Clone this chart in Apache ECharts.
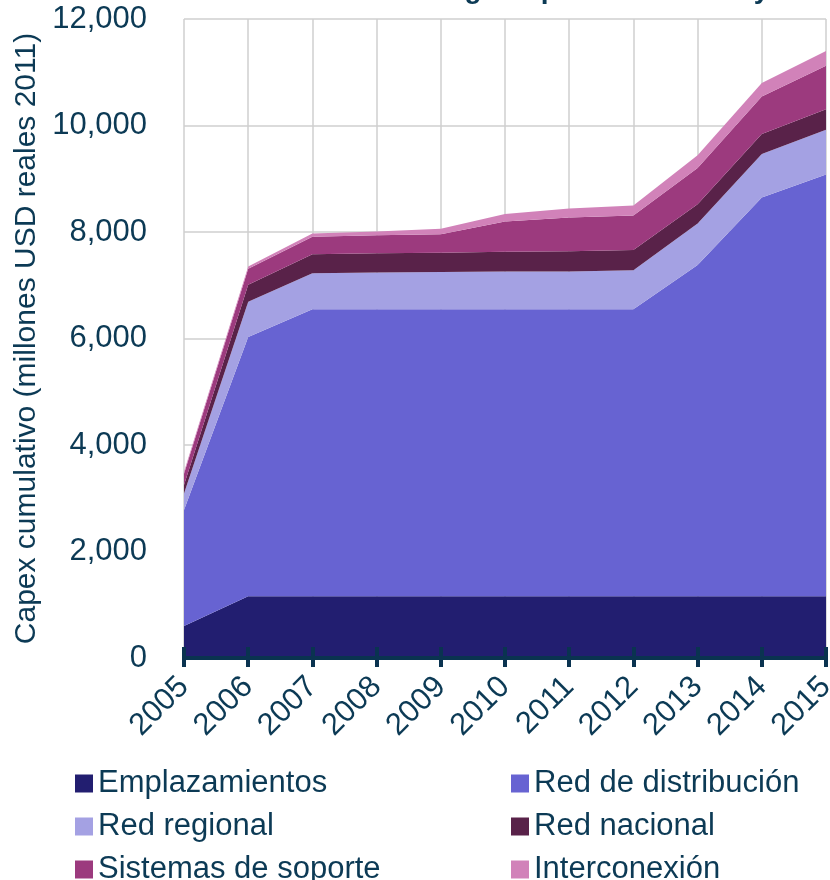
<!DOCTYPE html>
<html>
<head>
<meta charset="utf-8">
<script src="https://cdn.jsdelivr.net/npm/echarts@6/dist/echarts.min.js"></script>
<style>
  html, body { margin: 0; padding: 0; background: #ffffff; overflow: hidden; }
  #chart { width: 830px; height: 880px; }
</style>
</head>
<body>
<div id="chart"></div>
<script>
// Years on the category axis
const years = ['2005', '2006', '2007', '2008', '2009', '2010', '2011', '2012', '2013', '2014', '2015'];

// Cumulative capex per component (millones USD reales 2011), stacked bottom to top
const emplazamientos = [600, 1160, 1160, 1160, 1160, 1160, 1160, 1160, 1160, 1160, 1160];
const redDistribucion = [2180, 4870, 5390, 5390, 5390, 5390, 5390, 5390, 6220, 7490, 7920];
const redRegional = [310, 660, 675, 690, 700, 710, 710, 730, 780, 815, 840];
const redNacional = [160, 320, 355, 360, 360, 370, 380, 380, 360, 375, 385];
const sistemasSoporte = [210, 300, 330, 340, 350, 565, 630, 650, 680, 705, 815];
const interconexion = [40, 40, 60, 70, 100, 145, 170, 190, 240, 255, 280];

// Value axis range
const yMin = 0;
const yMax = 12000;
const yStep = 2000;

const TEXT = '#0C3A55';
const AXIS = '#0A3350';
const GRIDLINE = '#CFCFCF';
const FONT = '"Liberation Sans", Arial, sans-serif';

const layers = [
  { name: 'Emplazamientos', data: emplazamientos, color: '#221E70' },
  { name: 'Red de distribución', data: redDistribucion, color: '#6763D2' },
  { name: 'Red regional', data: redRegional, color: '#A4A1E3' },
  { name: 'Red nacional', data: redNacional, color: '#592249' },
  { name: 'Sistemas de soporte', data: sistemasSoporte, color: '#9C3A7E' },
  { name: 'Interconexión', data: interconexion, color: '#D182B9' }
];

const chart = echarts.init(document.getElementById('chart'), null, { renderer: 'canvas', width: 830, height: 880 });

const legendBase = {
  orient: 'vertical',
  top: 768,
  height: 130,
  itemWidth: 18,
  itemHeight: 18,
  itemGap: 12,
  icon: 'rect',
  selectedMode: false,
  padding: 0,
  textStyle: { color: TEXT, fontSize: 31, lineHeight: 30.5, fontFamily: FONT }
};

chart.setOption({
  animation: false,
  backgroundColor: '#ffffff',
  title: {
    text: 'Inversión acumulada según tipo de elemento y año',
    left: 147,
    top: -24,
    padding: 0,
    textStyle: { color: TEXT, fontSize: 28, fontWeight: 'bold', fontFamily: FONT }
  },
  legend: [
    Object.assign({}, legendBase, {
      left: 75,
      data: ['Emplazamientos', 'Red regional', 'Sistemas de soporte']
    }),
    Object.assign({}, legendBase, {
      left: 511,
      data: ['Red de distribución', 'Red nacional', 'Interconexión']
    })
  ],
  grid: {
    left: 184, width: 642, top: 19, height: 639,
    containLabel: false,
    outerBoundsMode: 'none'
  },
  xAxis: [
    {
      // category scale and vertical grid lines, kept beneath the areas
      type: 'category',
      data: years,
      boundaryGap: false,
      axisLine: { show: false },
      axisTick: { show: false },
      axisLabel: { show: false },
      splitLine: { show: true, lineStyle: { color: GRIDLINE, width: 1.5 } },
      z: 0
    },
    {
      // axis line, outward ticks and year labels drawn over the areas
      type: 'category',
      data: years,
      boundaryGap: false,
      position: 'bottom',
      axisLine: { show: true, lineStyle: { color: AXIS, width: 4 } },
      axisTick: { show: true, inside: false, length: 9, lineStyle: { color: AXIS, width: 4 } },
      axisLabel: {
        rotate: 45, margin: 24, color: TEXT, fontSize: 31, fontFamily: FONT
      },
      splitLine: { show: false },
      z: 5
    },
    {
      // inward half of the tick marks crossing the axis line
      type: 'category',
      data: years,
      boundaryGap: false,
      position: 'bottom',
      axisLine: { show: false },
      axisTick: { show: true, inside: true, length: 11, lineStyle: { color: AXIS, width: 4 } },
      axisLabel: { show: false },
      splitLine: { show: false },
      z: 5
    }
  ],
  yAxis: {
    type: 'value',
    min: yMin,
    max: yMax,
    interval: yStep,
    name: 'Capex cumulativo (millones USD reales 2011)',
    nameLocation: 'middle',
    nameGap: 139,
    nameTextStyle: { color: TEXT, fontSize: 30, fontFamily: FONT },
    axisLine: { show: false },
    axisTick: { show: false },
    axisLabel: {
      margin: 37,
      color: TEXT,
      fontSize: 31,
      fontFamily: FONT,
      formatter: v => v.toLocaleString('en-US')
    },
    splitLine: { show: true, lineStyle: { color: GRIDLINE, width: 1.5 } }
  },
  series: layers.map(l => ({
    name: l.name,
    type: 'line',
    stack: 'capex',
    data: l.data,
    xAxisIndex: 0,
    color: l.color,
    showSymbol: false,
    symbol: 'none',
    lineStyle: { width: 0, color: l.color },
    areaStyle: { color: l.color, opacity: 1 },
    itemStyle: { color: l.color }
  }))
});
</script>
</body>
</html>
